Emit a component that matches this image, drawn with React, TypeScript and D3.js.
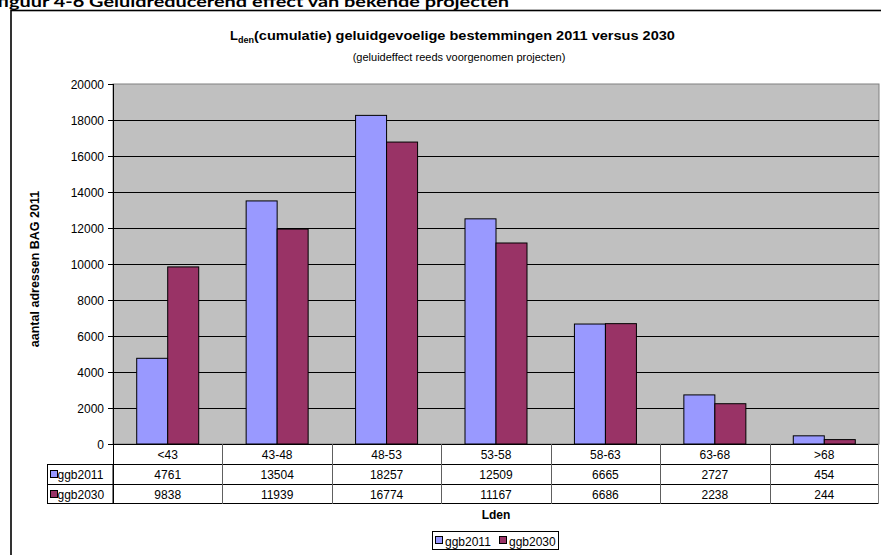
import React from "react";
import * as d3 from "d3";

const categories = ["<43", "43-48", "48-53", "53-58", "58-63", "63-68", ">68"];
const seriesNames = ["ggb2011", "ggb2030"];
const ggb2011 = [4761, 13504, 18257, 12509, 6665, 2727, 454];
const ggb2030 = [9838, 11939, 16774, 11167, 6686, 2238, 244];
const yTicks = [0, 2000, 4000, 6000, 8000, 10000, 12000, 14000, 16000, 18000, 20000];
const colors = ["#9999FF", "#993366"];

const W = 881;
const H = 555;
const font = "'Liberation Sans', Arial, sans-serif";

export default function App() {
	const series = [ggb2011, ggb2030];
	const left = 113;
	const right = 879;
	const top = 84;
	const bottom = 444;
	const rowH = [20, 20, 19];

	const x = d3.scaleBand<string>().domain(categories).range([left, right]).padding(0);
	const inner = d3
		.scaleBand<string>()
		.domain(seriesNames)
		.range([0, x.bandwidth()])
		.paddingInner(0)
		.paddingOuter(0.765);
	const y = d3.scaleLinear().domain([0, 20000]).range([bottom, top]);
	const midX = (left + right) / 2;

	const row1 = bottom + rowH[0];
	const row2 = row1 + rowH[1];
	const row3 = row2 + rowH[2];

	return (
		<svg
			width={W}
			height={H}
			style={{ position: "absolute", left: 0, top: 0, background: "#fff" }}
			fontFamily={font}
		>
			{/* page heading, cut off at the top */}
			<text
				x={-3}
				y={6.5}
				fontFamily="Lato, 'Open Sans', sans-serif"
				fontWeight="bold"
				fontSize={15}
				textLength={512}
				lengthAdjust="spacingAndGlyphs"
			>
				figuur 4-6 Geluidreducerend effect van bekende projecten
			</text>

			{/* chart frame */}
			<rect x={11} y={10.5} width={W + 20} height={H + 20} fill="none" stroke="#000" strokeWidth={1.6} />

			{/* titles */}
			<text x={230} y={40} fontWeight="bold" fontSize={13}>
				<tspan>L</tspan>
				<tspan fontSize={9} dy={3}>den</tspan>
				<tspan dy={-3} textLength={421} lengthAdjust="spacingAndGlyphs">
					(cumulatie) geluidgevoelige bestemmingen 2011 versus 2030
				</tspan>
			</text>
			<text x={459} y={61} textAnchor="middle" fontSize={11}>
				(geluideffect reeds voorgenomen projecten)
			</text>

			{/* plot area */}
			<rect x={left} y={top} width={right - left} height={bottom - top} fill="#C0C0C0" stroke="#808080" strokeWidth={1} />
			{yTicks
				.filter((t) => t > 0 && t < 20000)
				.map((t) => (
					<line key={t} x1={left} x2={right} y1={Math.round(y(t)) + 0.5} y2={Math.round(y(t)) + 0.5} stroke="#000" />
				))}

			{/* bars */}
			{categories.map((c, i) =>
				seriesNames.map((s, j) => {
					const v = series[j][i];
					const bx = (x(c) ?? 0) + (inner(s) ?? 0);
					return (
						<rect
							key={c + s}
							x={bx}
							y={y(v)}
							width={inner.bandwidth()}
							height={bottom - y(v)}
							fill={colors[j]}
							stroke="#000"
							strokeWidth={1}
						/>
					);
				})
			)}

			{/* y axis */}
			<line x1={left + 0.5} x2={left + 0.5} y1={top} y2={bottom} stroke="#000" />
			{yTicks.map((t) => (
				<g key={t}>
					<line x1={left - 5} x2={left} y1={Math.round(y(t)) + 0.5} y2={Math.round(y(t)) + 0.5} stroke="#000" />
					<text x={104} y={y(t) + 4.5} textAnchor="end" fontSize={12}>
						{t}
					</text>
				</g>
			))}
			<text
				transform={`translate(39,269) rotate(-90)`}
				textAnchor="middle"
				fontWeight="bold"
				fontSize={12.5}
			>
				aantal adressen BAG 2011
			</text>

			{/* data table */}
			<rect x={left} y={bottom} width={right - left} height={row3 - bottom} fill="#fff" stroke="none" />
			<rect x={47.5} y={row1 + 0.5} width={left - 47.5} height={row3 - row1} fill="#fff" stroke="#000" />
			<line x1={left} x2={right} y1={bottom + 0.5} y2={bottom + 0.5} stroke="#000" />
			<line x1={47.5} x2={right} y1={row1 + 0.5} y2={row1 + 0.5} stroke="#000" />
			<line x1={47.5} x2={right} y1={row2 + 0.5} y2={row2 + 0.5} stroke="#000" />
			<line x1={47.5} x2={right} y1={row3 + 0.5} y2={row3 + 0.5} stroke="#000" />
			<line x1={right - 0.5} x2={right - 0.5} y1={bottom} y2={row3 + 1} stroke="#808080" />
			{categories.map((c, i) => (
				<line
					key={"v" + c}
					x1={Math.round(x(c) ?? 0) + 0.5}
					x2={Math.round(x(c) ?? 0) + 0.5}
					y1={i === 0 ? top : bottom}
					y2={row3 + 1}
					stroke={i === 0 ? "#000" : "#606060"}
				/>
			))}
			{categories.map((c, i) => (
				<g key={"t" + c} fontSize={12} textAnchor="middle">
					<text x={(x(c) ?? 0) + x.bandwidth() / 2} y={bottom + 15}>
						{c}
					</text>
					<text x={(x(c) ?? 0) + x.bandwidth() / 2} y={row1 + 15}>
						{ggb2011[i]}
					</text>
					<text x={(x(c) ?? 0) + x.bandwidth() / 2} y={row2 + 14.5}>
						{ggb2030[i]}
					</text>
				</g>
			))}
			{seriesNames.map((s, j) => {
				const ry = j === 0 ? row1 : row2;
				return (
					<g key={"k" + s}>
						<rect x={50.5} y={ry + 6.5} width={7} height={7} fill={colors[j]} stroke="#000" />
						<text x={57.5} y={ry + 15} fontSize={12}>
							{s}
						</text>
					</g>
				);
			})}

			{/* x axis title */}
			<text x={midX} y={519} textAnchor="middle" fontWeight="bold" fontSize={12}>
				Lden
			</text>

			{/* legend */}
			<rect x={432.5} y={531.5} width={126} height={18} fill="#fff" stroke="#000" />
			{seriesNames.map((s, j) => (
				<g key={"l" + s}>
					<rect x={435.5 + j * 64} y={536.5} width={7} height={7} fill={colors[j]} stroke="#000" />
					<text x={445 + j * 64} y={545.5} fontSize={12}>
						{s}
					</text>
				</g>
			))}
		</svg>
	);
}
